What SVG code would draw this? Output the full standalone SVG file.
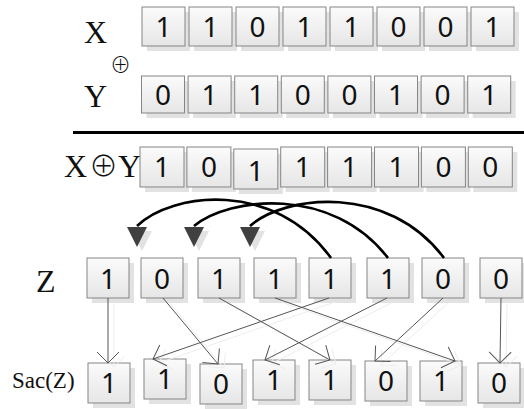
<svg xmlns="http://www.w3.org/2000/svg" width="524" height="409" viewBox="0 0 524 409">
  <defs>
    <linearGradient id="cellFill" x1="0" y1="0" x2="0" y2="1">
      <stop offset="0" stop-color="#fbfbfb"/>
      <stop offset="1" stop-color="#e6e6e6"/>
    </linearGradient>
    <marker id="vee" viewBox="-13 -13 15 26" refX="0" refY="0" markerWidth="15" markerHeight="26" markerUnits="userSpaceOnUse" orient="auto">
      <path d="M-11,-11 L0,0 L-11,11" fill="none" stroke="#555" stroke-width="1"/>
    </marker>
    <marker id="veeShadow" viewBox="-13 -13 15 26" refX="0" refY="0" markerWidth="15" markerHeight="26" markerUnits="userSpaceOnUse" orient="auto">
      <path d="M-11,-11 L0,0 L-11,11" fill="none" stroke="#ededed" stroke-width="1"/>
    </marker>
  </defs>
  <style>
    .shadow { fill: #e2e2e2; }
    .cell { fill: url(#cellFill); stroke: #858585; stroke-width: 1; }
    .digit { font-family: "Noto Sans", "Open Sans", sans-serif; font-size: 28px; fill: #111; text-anchor: middle; }
    .label { font-family: "Liberation Serif", "Times New Roman", serif; fill: #111; }
    .sym { font-family: "Noto Sans CJK SC", "DejaVu Sans", sans-serif; font-weight: 300; fill: #111; }
    .link { fill: none; stroke: #555; stroke-width: 1; marker-end: url(#vee); }
    .linkShadow { fill: none; stroke: #ededed; stroke-width: 1; marker-end: url(#veeShadow); }
    .arc { fill: none; stroke: #000; stroke-width: 2.6; }
    .head { fill: #404040; }
    .headShadow { fill: #e2e2e2; }
  </style>

  <rect width="524" height="409" fill="#fff"/>

  <!-- row labels -->
  <g id="label-x"><text class="label" x="84" y="43" font-size="32">X</text></g>
  <g id="label-xor"><text class="sym" x="110" y="72" font-size="21">⊕</text></g>
  <g id="label-y"><text class="label" x="84" y="107" font-size="32">Y</text></g>
  <g id="label-xy"><text class="label" y="177" font-size="32"><tspan x="64">X</tspan><tspan class="sym" x="89" y="176.5" font-size="29">⊕</tspan><tspan x="118" y="177">Y</tspan></text></g>
  <g id="label-z"><text class="label" x="36" y="292" font-size="32">Z</text></g>
  <g id="label-sac"><text class="label" x="12" y="388" font-size="23">Sac(Z)</text></g>

  <!-- separator under the operands -->
  <line x1="73" y1="132.5" x2="524" y2="132.5" stroke="#000" stroke-width="3"/>

  <!-- X -->
  <g id="x0"><rect class="shadow" x="147" y="12" width="43" height="39"/><rect class="cell" x="142" y="7" width="43" height="39"/><text class="digit" x="163.5" y="36.5">1</text></g>
  <g id="x1"><rect class="shadow" x="194" y="12" width="43" height="39"/><rect class="cell" x="189" y="7" width="43" height="39"/><text class="digit" x="210.5" y="36.5">1</text></g>
  <g id="x2"><rect class="shadow" x="241" y="12" width="43" height="39"/><rect class="cell" x="236" y="7" width="43" height="39"/><text class="digit" x="257.5" y="36.5">0</text></g>
  <g id="x3"><rect class="shadow" x="288" y="12" width="43" height="39"/><rect class="cell" x="283" y="7" width="43" height="39"/><text class="digit" x="304.5" y="36.5">1</text></g>
  <g id="x4"><rect class="shadow" x="335" y="12" width="43" height="39"/><rect class="cell" x="330" y="7" width="43" height="39"/><text class="digit" x="351.5" y="36.5">1</text></g>
  <g id="x5"><rect class="shadow" x="382" y="12" width="43" height="39"/><rect class="cell" x="377" y="7" width="43" height="39"/><text class="digit" x="398.5" y="36.5">0</text></g>
  <g id="x6"><rect class="shadow" x="429" y="12" width="43" height="39"/><rect class="cell" x="424" y="7" width="43" height="39"/><text class="digit" x="445.5" y="36.5">0</text></g>
  <g id="x7"><rect class="shadow" x="476" y="12" width="43" height="39"/><rect class="cell" x="471" y="7" width="43" height="39"/><text class="digit" x="492.5" y="36.5">1</text></g>

  <!-- Y -->
  <g id="y0"><rect class="shadow" x="146.5" y="81" width="43" height="37"/><rect class="cell" x="141.5" y="76" width="43" height="37"/><text class="digit" x="163" y="104.5">0</text></g>
  <g id="y1"><rect class="shadow" x="193.1" y="81" width="43" height="37"/><rect class="cell" x="188.1" y="76" width="43" height="37"/><text class="digit" x="209.6" y="104.5">1</text></g>
  <g id="y2"><rect class="shadow" x="239.7" y="81" width="43" height="37"/><rect class="cell" x="234.7" y="76" width="43" height="37"/><text class="digit" x="256.2" y="104.5">1</text></g>
  <g id="y3"><rect class="shadow" x="286.3" y="81" width="43" height="37"/><rect class="cell" x="281.3" y="76" width="43" height="37"/><text class="digit" x="302.8" y="104.5">0</text></g>
  <g id="y4"><rect class="shadow" x="332.9" y="81" width="43" height="37"/><rect class="cell" x="327.9" y="76" width="43" height="37"/><text class="digit" x="349.4" y="104.5">0</text></g>
  <g id="y5"><rect class="shadow" x="379.5" y="81" width="43" height="37"/><rect class="cell" x="374.5" y="76" width="43" height="37"/><text class="digit" x="396" y="104.5">1</text></g>
  <g id="y6"><rect class="shadow" x="426.1" y="81" width="43" height="37"/><rect class="cell" x="421.1" y="76" width="43" height="37"/><text class="digit" x="442.6" y="104.5">0</text></g>
  <g id="y7"><rect class="shadow" x="472.7" y="81" width="43" height="37"/><rect class="cell" x="467.7" y="76" width="43" height="37"/><text class="digit" x="489.2" y="104.5">1</text></g>

  <!-- X xor Y -->
  <g id="xy0"><rect class="shadow" x="145" y="152" width="44" height="40"/><rect class="cell" x="140" y="147" width="44" height="40"/><text class="digit" x="162" y="177">1</text></g>
  <g id="xy1"><rect class="shadow" x="191.9" y="152" width="44" height="40"/><rect class="cell" x="186.9" y="147" width="44" height="40"/><text class="digit" x="208.9" y="177">0</text></g>
  <g id="xy2"><rect class="shadow" x="238.8" y="154" width="44" height="40"/><rect class="cell" x="233.8" y="149" width="44" height="40"/><text class="digit" x="255.8" y="181">1</text></g>
  <g id="xy3"><rect class="shadow" x="285.7" y="152" width="44" height="40"/><rect class="cell" x="280.7" y="147" width="44" height="40"/><text class="digit" x="302.7" y="177">1</text></g>
  <g id="xy4"><rect class="shadow" x="332.6" y="152" width="44" height="40"/><rect class="cell" x="327.6" y="147" width="44" height="40"/><text class="digit" x="349.6" y="177">1</text></g>
  <g id="xy5"><rect class="shadow" x="379.5" y="152" width="44" height="40"/><rect class="cell" x="374.5" y="147" width="44" height="40"/><text class="digit" x="396.5" y="177">1</text></g>
  <g id="xy6"><rect class="shadow" x="426.4" y="152" width="44" height="40"/><rect class="cell" x="421.4" y="147" width="44" height="40"/><text class="digit" x="443.4" y="177">0</text></g>
  <g id="xy7"><rect class="shadow" x="473.3" y="152" width="44" height="40"/><rect class="cell" x="468.3" y="147" width="44" height="40"/><text class="digit" x="490.3" y="177">0</text></g>

  <!-- Z -->
  <g id="z0"><rect class="shadow" x="92" y="263" width="42" height="40"/><rect class="cell" x="87" y="258" width="42" height="40"/><text class="digit" x="108" y="288.5">1</text></g>
  <g id="z1"><rect class="shadow" x="146" y="263" width="42" height="40"/><rect class="cell" x="141" y="258" width="42" height="40"/><text class="digit" x="162" y="288.5">0</text></g>
  <g id="z2"><rect class="shadow" x="203" y="263" width="42" height="40"/><rect class="cell" x="198" y="258" width="42" height="40"/><text class="digit" x="219" y="288.5">1</text></g>
  <g id="z3"><rect class="shadow" x="259" y="263" width="42" height="40"/><rect class="cell" x="254" y="258" width="42" height="40"/><text class="digit" x="275" y="288.5">1</text></g>
  <g id="z4"><rect class="shadow" x="314" y="263" width="42" height="40"/><rect class="cell" x="309" y="258" width="42" height="40"/><text class="digit" x="330" y="288.5">1</text></g>
  <g id="z5"><rect class="shadow" x="372" y="263" width="42" height="40"/><rect class="cell" x="367" y="258" width="42" height="40"/><text class="digit" x="388" y="288.5">1</text></g>
  <g id="z6"><rect class="shadow" x="427" y="263" width="42" height="40"/><rect class="cell" x="422" y="258" width="42" height="40"/><text class="digit" x="443" y="288.5">0</text></g>
  <g id="z7"><rect class="shadow" x="485" y="263" width="42" height="40"/><rect class="cell" x="480" y="258" width="42" height="40"/><text class="digit" x="501" y="288.5">0</text></g>

  <!-- Sac(Z) -->
  <g id="s0"><rect class="shadow" x="93" y="368" width="42" height="40"/><rect class="cell" x="88" y="363" width="42" height="40"/><text class="digit" x="109" y="392.5">1</text></g>
  <g id="s1"><rect class="shadow" x="149" y="364" width="42" height="40"/><rect class="cell" x="144" y="359" width="42" height="40"/><text class="digit" x="165" y="388.5">1</text></g>
  <g id="s2"><rect class="shadow" x="205" y="369" width="42" height="40"/><rect class="cell" x="200" y="364" width="42" height="40"/><text class="digit" x="221" y="393.5">0</text></g>
  <g id="s3"><rect class="shadow" x="258" y="365" width="42" height="40"/><rect class="cell" x="253" y="360" width="42" height="40"/><text class="digit" x="274" y="389.5">1</text></g>
  <g id="s4"><rect class="shadow" x="314" y="365" width="42" height="40"/><rect class="cell" x="309" y="360" width="42" height="40"/><text class="digit" x="330" y="389.5">1</text></g>
  <g id="s5"><rect class="shadow" x="370" y="366" width="42" height="40"/><rect class="cell" x="365" y="361" width="42" height="40"/><text class="digit" x="386" y="390.5">0</text></g>
  <g id="s6"><rect class="shadow" x="425" y="366" width="42" height="40"/><rect class="cell" x="420" y="361" width="42" height="40"/><text class="digit" x="441" y="390.5">1</text></g>
  <g id="s7"><rect class="shadow" x="483" y="368" width="42" height="40"/><rect class="cell" x="478" y="363" width="42" height="40"/><text class="digit" x="499" y="392.5">0</text></g>

  <!-- connectors -->
  <g id="connectors">
    <!-- cyclic shift: last three bits wrap to the front -->
    <g id="shift">
      <path class="arc" d="M331,258 C275,180 172,192 137,226"/>
      <path class="arc" d="M388,258 C332,185 229,197 194,226"/>
      <path class="arc" d="M444,258 C388,183 285,195 250,226"/>
      <polygon class="headShadow" points="132,231 152,231 142,251"/>
      <polygon class="headShadow" points="189,231 209,231 199,251"/>
      <polygon class="headShadow" points="245,231 265,231 255,251"/>
      <polygon class="head" points="127,227 147,227 137,247"/>
      <polygon class="head" points="184,227 204,227 194,247"/>
      <polygon class="head" points="240,227 260,227 250,247"/>
    </g>
    <!-- bit permutation Z to Sac(Z) -->
    <g id="permute-shadow" transform="translate(6,4)">
      <path class="linkShadow" d="M108,298 L108,363"/>
      <path class="linkShadow" d="M163,298 L218,364"/>
      <path class="linkShadow" d="M219,298 L330,360"/>
      <path class="linkShadow" d="M275,298 L455,361"/>
      <path class="linkShadow" d="M329,298 L153,359"/>
      <path class="linkShadow" d="M387,298 L265,360"/>
      <path class="linkShadow" d="M443,298 L375,361"/>
      <path class="linkShadow" d="M501,298 L500,363"/>
    </g>
    <g id="permute">
      <path class="link" d="M108,298 L108,363"/>
      <path class="link" d="M163,298 L218,364"/>
      <path class="link" d="M219,298 L330,360"/>
      <path class="link" d="M275,298 L455,361"/>
      <path class="link" d="M329,298 L153,359"/>
      <path class="link" d="M387,298 L265,360"/>
      <path class="link" d="M443,298 L375,361"/>
      <path class="link" d="M501,298 L500,363"/>
    </g>
  </g>
</svg>
